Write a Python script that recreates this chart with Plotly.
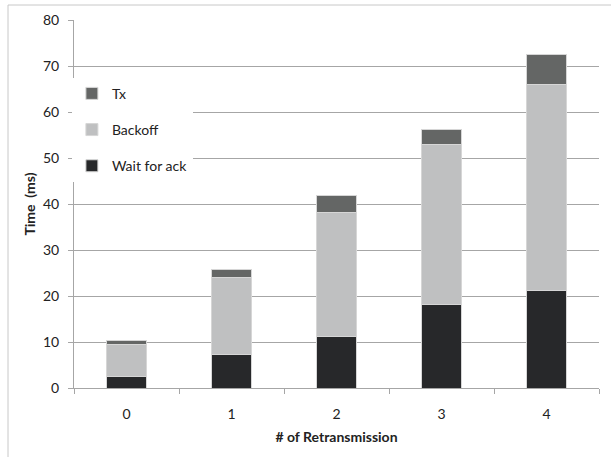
import plotly.graph_objects as go

categories = ["0", "1", "2", "3", "4"]
wait_for_ack = [2.4, 7.3, 11.2, 18.1, 21.3]
backoff = [7.1, 16.8, 26.9, 34.9, 44.7]
tx = [0.8, 1.7, 3.7, 3.1, 6.5]
y_ticks = [0, 10, 20, 30, 40, 50, 60, 70, 80]

FONT = "Lato, 'Open Sans', sans-serif"
fig = go.Figure()
for name, vals, col, grp, rank in [("Wait for ack", wait_for_ack, "#27282a", "a", 3),
                                   ("Backoff", backoff, "#bfc0c1", "b", 2),
                                   ("Tx", tx, "#646665", "c", 1)]:
    fig.add_trace(go.Bar(x=categories, y=vals, name=name, legendgroup=grp, legendrank=rank,
                         marker=dict(color=col, line=dict(color="#d6d6d6", width=1))))

fig.update_layout(
    width=611, height=457, barmode="stack", bargap=0.61,
    margin=dict(l=74, r=12, t=20, b=69),
    paper_bgcolor="white", plot_bgcolor="white",
    font=dict(family=FONT, size=14, color="#222222"),
    legend=dict(x=-0.004, y=0.843, xanchor="left", yanchor="top",
                traceorder="grouped", tracegroupgap=15,
                bgcolor="white", font=dict(size=14), itemwidth=30),
    xaxis=dict(showline=True, linecolor="#a6a6a6", ticks="outside",
               tickson="boundaries", ticklen=5, tickcolor="#a6a6a6",
               ticklabelstandoff=13,
               title=dict(text="<b># of Retransmission</b>", font=dict(size=14), standoff=11),
               tickfont=dict(size=14)),
    yaxis=dict(range=[0, 80], tickvals=y_ticks, showgrid=True, gridcolor="#a6a6a6",
               showline=True, linecolor="#a6a6a6", ticks="outside", ticklen=5,
               tickcolor="#a6a6a6", tickfont=dict(size=14), zeroline=False,
               ticklabelstandoff=6,
               title=dict(text="<b>Time  (ms)</b>", font=dict(size=14), standoff=4)),
    shapes=[dict(type="rect", xref="paper", yref="paper",
                 x0=(8 - 74) / 525, x1=(640 - 74) / 525,
                 y0=(388 - 470) / 368, y1=(388 - 5) / 368,
                 line=dict(color="#c8c8c8", width=1), fillcolor="rgba(0,0,0,0)", layer="below")],
)
fig.write_html("out.html", config={"displayModeBar": False},
               post_script="document.body.style.margin='0';")
